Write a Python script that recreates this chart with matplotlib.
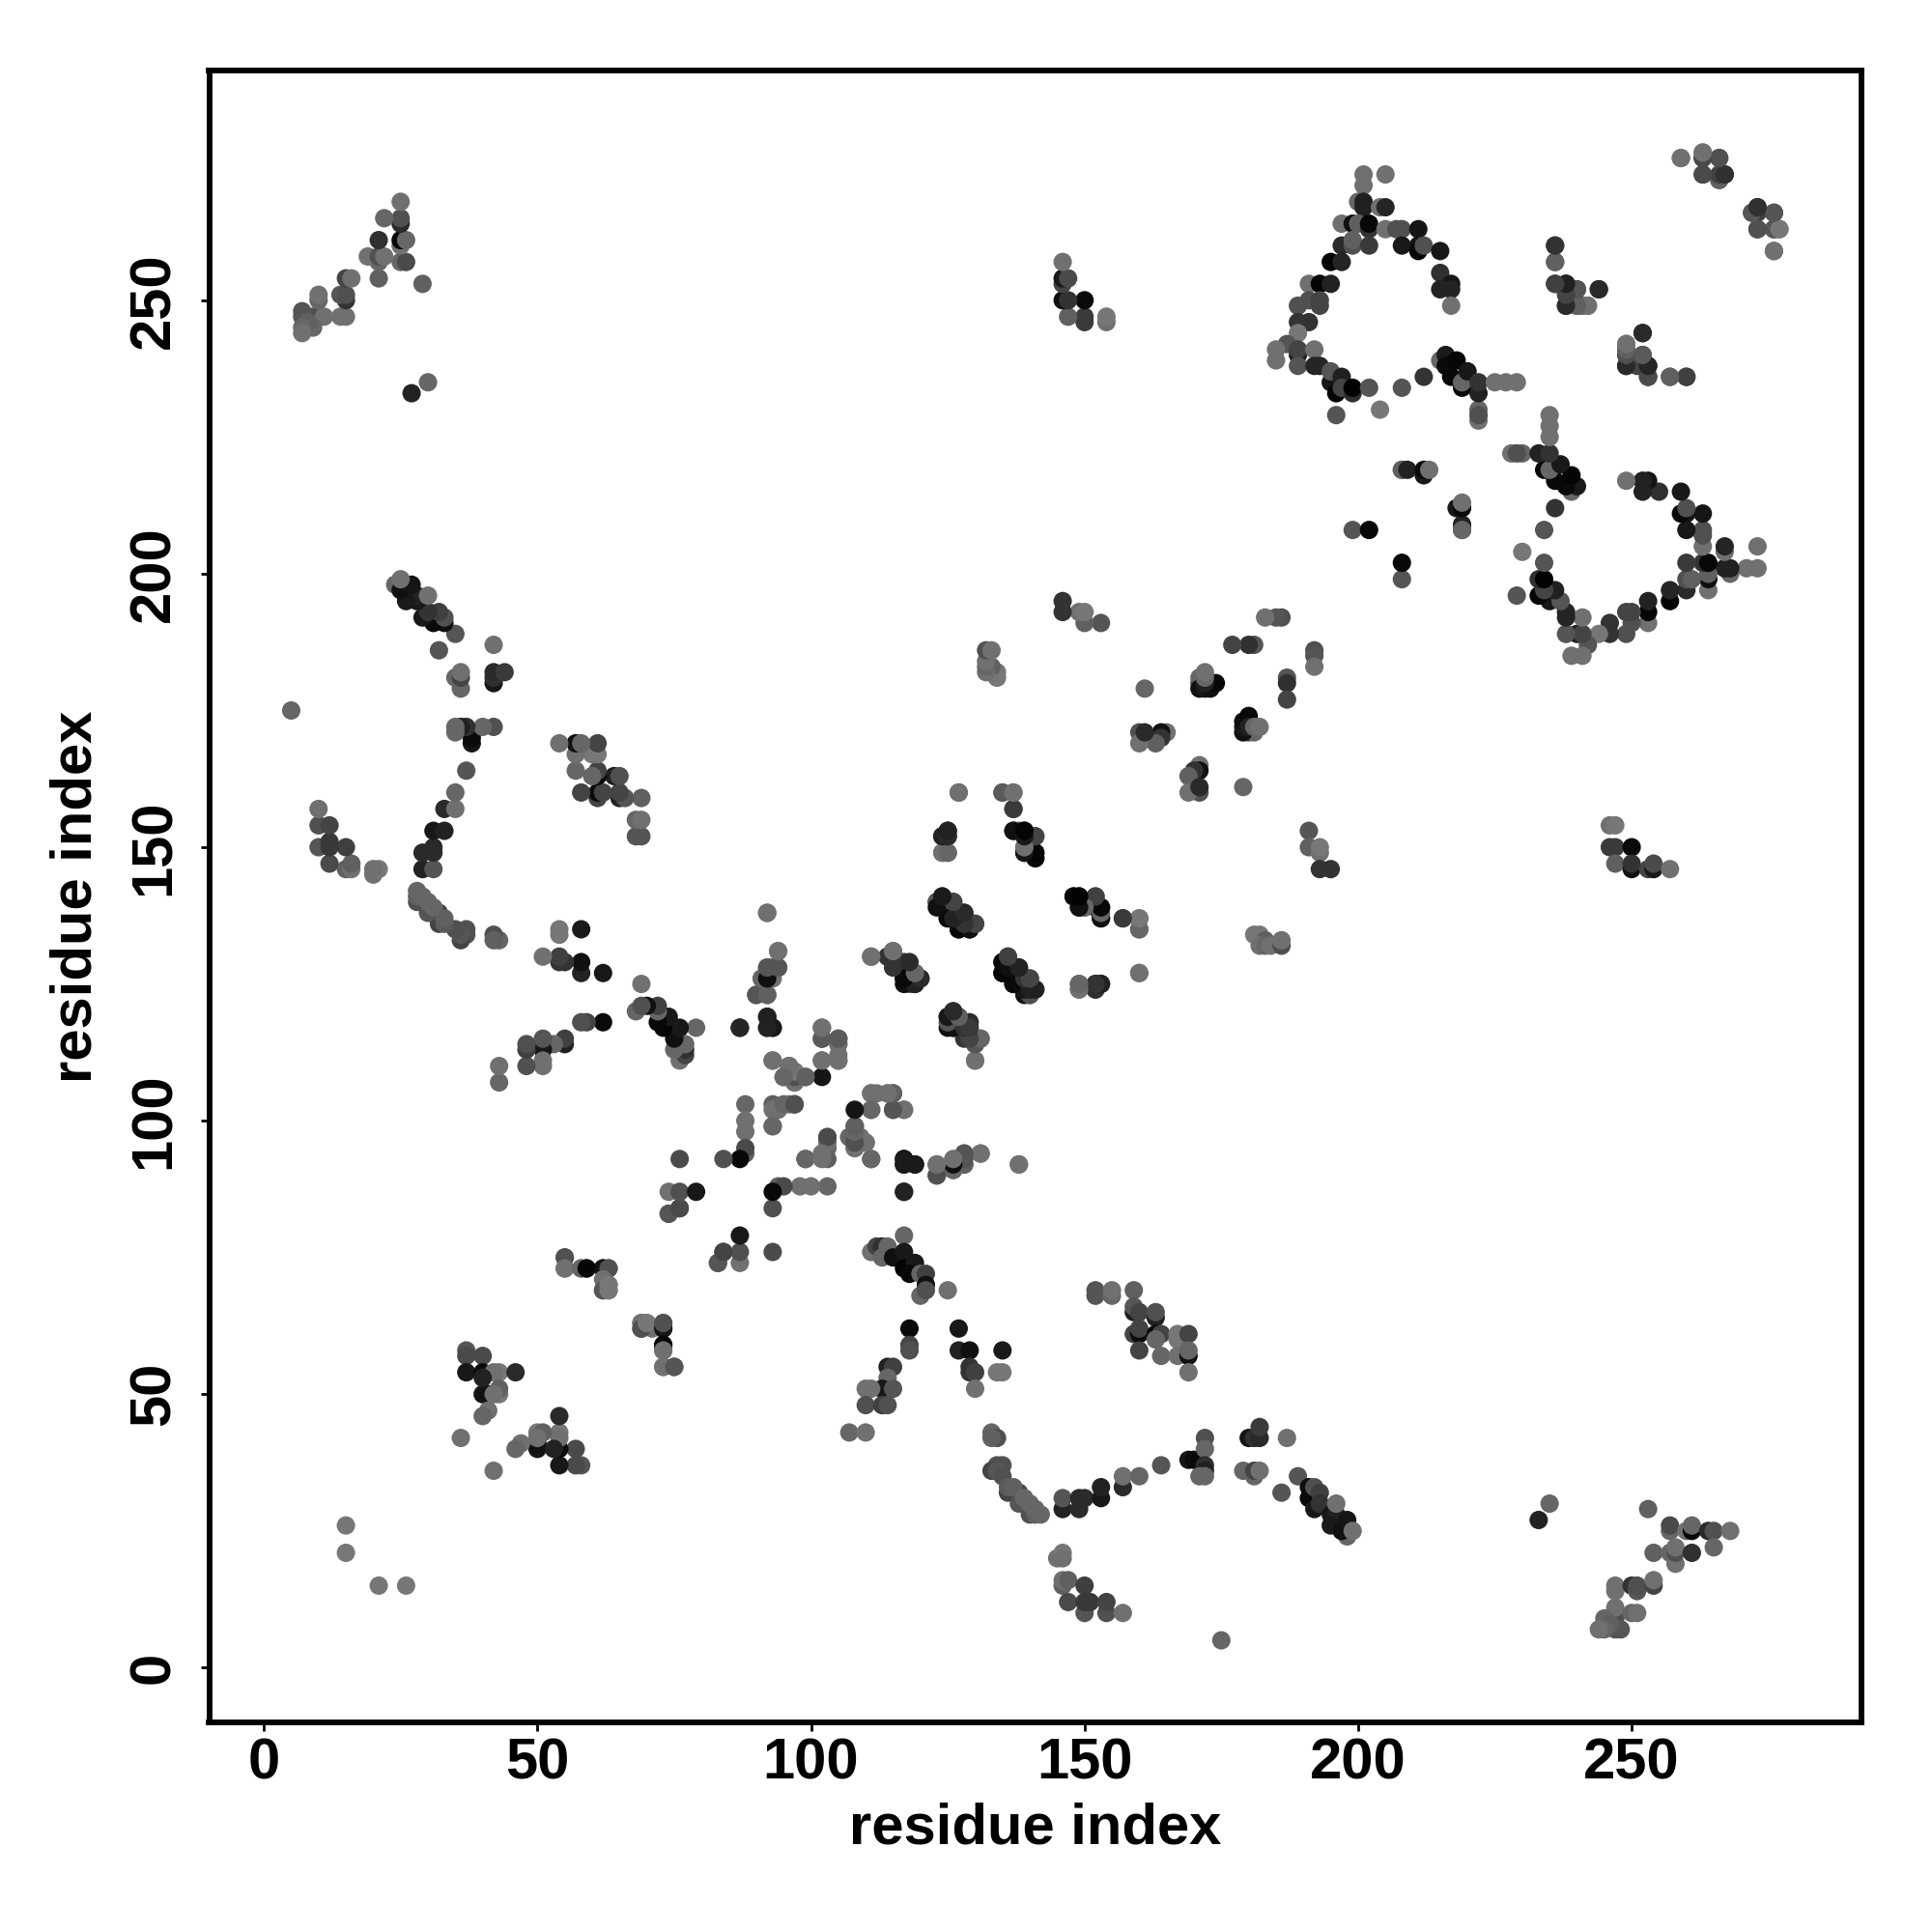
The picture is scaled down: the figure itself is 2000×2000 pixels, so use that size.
"""
Residue contact map, drawn from the lower half of the symmetric contact list.
Each entry is (residue a, residue b, grey level).
"""

import matplotlib

matplotlib.use("Agg")
import matplotlib.pyplot as plt
import numpy as np

plt.rcParams["font.family"] = ["Liberation Sans", "DejaVu Sans"]
plt.rcParams["font.weight"] = "bold"

tick_values = [0, 50, 100, 150, 200, 250]
axis_label = "residue index"

contacts_n_term = [
    (26, 15, 0x77), (21, 15, 0x77), (42, 36, 0x70),
    (58, 37, 0x55), (57, 37, 0x4a), (57, 40, 0x4a), (54, 37, 0x18), (54, 40, 0x0a),
    (54, 43, 0x77), (54, 42, 0x70), (54, 46, 0x2a), (50, 40, 0x15), (50, 41, 0x10),
    (50, 43, 0x77), (51, 43, 0x60), (50, 42, 0x70), (47, 41, 0x70), (46, 40, 0x66),
    (53, 40, 0x22),
    (75, 55, 0x50), (73, 55, 0x70), (73, 58, 0x66), (73, 59, 0x05), (73, 62, 0x10),
    (73, 63, 0x50), (71, 62, 0x70), (69, 62, 0x55), (69, 63, 0x77), (70, 63, 0x77),
    (63, 69, 0x70), (62, 69, 0x50), (63, 70, 0x77),
    (62, 73, 0x15), (63, 73, 0x50), (59, 73, 0x05), (58, 73, 0x70), (55, 73, 0x70),
    (55, 75, 0x55),
    (74, 83, 0x55), (76, 84, 0x44), (83, 74, 0x55), (84, 76, 0x4a),
    (87, 74, 0x70), (87, 76, 0x50), (87, 79, 0x18), (93, 76, 0x4a), (93, 84, 0x50),
]

contacts_low_band = [
    (117, 79, 0x66), (111, 76, 0x70), (112, 77, 0x44), (113, 77, 0x30), (114, 77, 0x66),
    (113, 75, 0x66), (115, 75, 0x10), (117, 76, 0x18), (117, 73, 0x05), (119, 74, 0x18),
    (118, 72, 0x08), (120, 72, 0x66), (121, 72, 0x40), (120, 68, 0x66), (121, 70, 0x10),
    (121, 69, 0x50), (125, 69, 0x70),
    (118, 62, 0x0a), (118, 59, 0x44), (118, 58, 0x50), (127, 62, 0x18), (127, 58, 0x22),
    (129, 58, 0x10), (135, 58, 0x1a), (129, 55, 0x33), (129, 54, 0x33), (130, 54, 0x40),
    (134, 54, 0x77), (135, 54, 0x77), (130, 51, 0x70),
    (114, 55, 0x20), (115, 55, 0x40), (114, 53, 0x66), (113, 51, 0x18), (115, 51, 0x55),
    (110, 51, 0x70), (111, 51, 0x70), (110, 48, 0x50), (113, 48, 0x40), (114, 48, 0x50),
    (107, 43, 0x66), (110, 43, 0x70),
    (133, 43, 0x66), (134, 42, 0x50), (133, 42, 0x60),
    (134, 37, 0x50), (135, 37, 0x50), (133, 36, 0x44), (134, 36, 0x55), (135, 35, 0x50),
    (136, 32, 0x44), (138, 32, 0x44), (136, 33, 0x5a), (137, 33, 0x60), (138, 30, 0x55),
    (139, 31, 0x66), (140, 28, 0x50), (140, 30, 0x66), (141, 28, 0x60), (141, 29, 0x66),
    (142, 28, 0x66),
    (146, 29, 0x22), (146, 31, 0x55), (149, 29, 0x2a), (149, 31, 0x2a), (150, 31, 0x2a),
    (153, 31, 0x18), (153, 33, 0x22), (157, 33, 0x2a), (157, 35, 0x70), (160, 35, 0x66),
    (164, 37, 0x55),
    (169, 38, 0x15), (170, 38, 0x0a), (172, 42, 0x50), (172, 40, 0x66), (172, 37, 0x30),
    (172, 36, 0x20), (171, 35, 0x66), (172, 35, 0x66),
    (180, 42, 0x15), (181, 42, 0x30), (182, 42, 0x2a), (182, 44, 0x3a),
    (179, 36, 0x66), (181, 35, 0x66), (181, 36, 0x44), (182, 36, 0x70), (187, 42, 0x70),
    (145, 20, 0x70), (146, 21, 0x77), (146, 20, 0x70), (146, 15, 0x60), (146, 16, 0x70),
    (147, 16, 0x60), (150, 15, 0x3f), (147, 12, 0x4a), (150, 10, 0x55), (150, 12, 0x38),
    (151, 12, 0x38), (154, 10, 0x50), (154, 12, 0x44), (157, 10, 0x70), (175, 5, 0x66),
    (152, 69, 0x55), (152, 68, 0x55), (155, 68, 0x66), (155, 69, 0x70), (159, 69, 0x60),
    (159, 65, 0x20), (159, 66, 0x55), (160, 65, 0x44), (163, 64, 0x20), (163, 65, 0x50),
    (159, 61, 0x44), (160, 61, 0x0a), (160, 62, 0x44), (163, 61, 0x0a), (164, 61, 0x44),
    (160, 58, 0x44), (163, 60, 0x66), (164, 57, 0x66), (167, 60, 0x77), (167, 61, 0x77),
    (169, 61, 0x44), (167, 57, 0x70), (169, 57, 0x10), (169, 58, 0x66), (169, 54, 0x70),
    (189, 35, 0x55), (186, 32, 0x55), (191, 33, 0x10), (191, 31, 0x0a), (192, 33, 0x50),
    (193, 32, 0x40), (192, 29, 0x18), (193, 30, 0x33), (195, 28, 0x18), (196, 28, 0x22),
    (195, 26, 0x1a), (196, 30, 0x70), (198, 24, 0x66), (197, 25, 0x10), (198, 27, 0x15),
    (199, 25, 0x70),
    (233, 27, 0x22), (235, 30, 0x66),
    (253, 29, 0x60), (257, 25, 0x66), (257, 26, 0x4a), (260, 25, 0x70), (261, 25, 0x08),
    (261, 26, 0x66), (264, 25, 0x2a), (265, 25, 0x50), (268, 25, 0x70), (265, 22, 0x66),
    (254, 21, 0x60), (257, 21, 0x66), (258, 19, 0x70), (258, 21, 0x50), (258, 22, 0x70),
    (261, 21, 0x30),
    (247, 14, 0x70), (247, 15, 0x70), (250, 15, 0x33), (251, 14, 0x55), (251, 15, 0x50),
    (254, 15, 0x44), (254, 16, 0x70),
    (247, 9, 0x50), (247, 11, 0x70), (245, 9, 0x66), (250, 10, 0x66), (251, 10, 0x70),
    (247, 7, 0x55), (248, 7, 0x55), (246, 8, 0x60), (245, 7, 0x66), (244, 7, 0x70),
]

contacts_centre = [
    (127, 160, 0x70), (135, 160, 0x66), (137, 160, 0x77), (137, 157, 0x3a),
    (124, 152, 0x30), (125, 153, 0x22), (125, 152, 0x33), (124, 149, 0x70), (125, 149, 0x66),
    (137, 153, 0x10), (138, 153, 0x66), (139, 153, 0x08), (141, 152, 0x40), (139, 150, 0x66),
    (139, 149, 0x10), (141, 148, 0x08), (141, 149, 0x02),
    (123, 140, 0x50), (124, 139, 0x15), (125, 137, 0x0a), (127, 135, 0x05), (129, 135, 0x08),
    (124, 141, 0x22), (124, 140, 0x20), (126, 139, 0x33), (126, 140, 0x44), (128, 136, 0x10),
    (128, 138, 0x22), (130, 136, 0x40),
    (148, 141, 0x08), (149, 141, 0x05), (152, 141, 0x44), (149, 139, 0x15), (150, 139, 0x70),
    (153, 137, 0x10), (152, 139, 0x18), (153, 139, 0x05), (157, 137, 0x3a), (160, 135, 0x5a),
    (160, 137, 0x70),
    (111, 130, 0x70), (114, 130, 0x55), (115, 131, 0x66), (115, 129, 0x44), (117, 126, 0x10),
    (118, 125, 0x55), (119, 125, 0x18), (117, 128, 0x33), (117, 129, 0x3a), (119, 127, 0x60),
    (120, 126, 0x2a),
    (135, 127, 0x08), (135, 129, 0x10), (136, 130, 0x44), (136, 128, 0x33), (137, 125, 0x0a),
    (137, 126, 0x22), (138, 128, 0x2a), (140, 123, 0x55), (139, 123, 0x10), (140, 126, 0x44),
    (141, 124, 0x1a),
    (149, 124, 0x70), (149, 125, 0x66), (152, 124, 0x22), (152, 125, 0x2a), (153, 125, 0x22),
    (160, 127, 0x70),
    (125, 117, 0x10), (125, 119, 0x22), (126, 117, 0x0a), (126, 120, 0x2a), (127, 119, 0x66),
    (129, 118, 0x2a), (128, 115, 0x33), (130, 114, 0x33), (131, 115, 0x70), (130, 111, 0x70),
    (181, 134, 0x77), (182, 133, 0x70), (182, 134, 0x77), (183, 133, 0x60), (182, 132, 0x70),
    (183, 132, 0x66), (184, 132, 0x70), (186, 132, 0x50), (186, 133, 0x70),
    (191, 153, 0x55), (191, 150, 0x60), (193, 149, 0x70), (193, 150, 0x77), (193, 146, 0x33),
    (195, 146, 0x33),
    (246, 154, 0x70), (247, 154, 0x77), (246, 150, 0x3a), (247, 150, 0x3a), (250, 150, 0x0a),
    (247, 147, 0x60), (250, 146, 0x10), (250, 147, 0x33), (253, 146, 0x44), (254, 146, 0x18),
    (254, 147, 0x4a), (257, 146, 0x70),
]

contacts_core = [
    (92, 138, 0x70), (94, 131, 0x70), (92, 128, 0x60), (93, 128, 0x55), (94, 128, 0x55),
    (91, 126, 0x66), (92, 126, 0x10), (93, 126, 0x70), (90, 123, 0x50), (92, 123, 0x70),
    (92, 119, 0x1a), (92, 117, 0x1a), (93, 117, 0x1a), (87, 117, 0x22),
    (102, 117, 0x70), (102, 115, 0x55), (105, 115, 0x60), (105, 114, 0x70), (105, 111, 0x70),
    (102, 111, 0x66), (93, 111, 0x66), (96, 110, 0x70), (97, 109, 0x70), (95, 108, 0x70),
    (97, 107, 0x66), (96, 108, 0x50), (98, 108, 0x66), (99, 108, 0x60), (102, 108, 0x15),
    (88, 103, 0x66), (93, 103, 0x60), (96, 103, 0x70), (97, 103, 0x4a), (94, 102, 0x70),
    (93, 99, 0x66), (88, 100, 0x70), (88, 98, 0x70), (88, 94, 0x60), (88, 95, 0x4a),
    (87, 93, 0x08), (93, 102, 0x70), (99, 93, 0x66), (103, 95, 0x66), (103, 97, 0x50),
    (107, 97, 0x70), (108, 97, 0x50), (109, 97, 0x77), (110, 96, 0x70), (108, 95, 0x66),
    (108, 99, 0x60),
    (111, 93, 0x70), (117, 93, 0x18), (117, 92, 0x22), (119, 92, 0x20), (123, 90, 0x55),
    (123, 92, 0x60), (126, 91, 0x66), (126, 92, 0x10), (128, 92, 0x55), (128, 94, 0x55),
    (131, 94, 0x70), (138, 92, 0x70),
    (117, 87, 0x25), (111, 105, 0x70), (112, 105, 0x70), (114, 105, 0x70), (115, 105, 0x5a),
    (115, 102, 0x5a), (117, 102, 0x70), (111, 102, 0x70),
]

contacts_mid = [
    (192, 186, 0x50), (192, 185, 0x55), (192, 183, 0x70), (187, 181, 0x55), (187, 180, 0x30),
    (187, 177, 0x44),
    (180, 171, 0x50), (181, 171, 0x66), (179, 171, 0x10), (179, 172, 0x18), (179, 173, 0x10),
    (180, 174, 0x08), (180, 172, 0x20), (181, 172, 0x66), (182, 172, 0x70),
    (171, 165, 0x70), (171, 164, 0x10), (170, 164, 0x33), (169, 163, 0x60), (171, 160, 0x50),
    (169, 160, 0x70), (171, 161, 0x2a), (179, 161, 0x66),
    (219, 208, 0x60), (219, 209, 0x22), (218, 212, 0x18), (219, 212, 0x0a), (219, 213, 0x70),
    (208, 199, 0x55), (208, 202, 0x08), (208, 219, 0x66),
    (196, 229, 0x55), (204, 230, 0x77), (222, 228, 0x70), (222, 230, 0x66), (222, 229, 0x50),
]

contacts_top = [
    (201, 273, 0x70), (205, 273, 0x70), (201, 271, 0x70), (200, 268, 0x66), (201, 267, 0x20),
    (201, 268, 0x20), (204, 267, 0x70), (205, 267, 0x25),
    (197, 264, 0x70), (199, 264, 0x10), (200, 264, 0x60), (202, 263, 0x33), (202, 264, 0x08),
    (205, 263, 0x70), (207, 263, 0x50), (208, 263, 0x50), (211, 263, 0x15),
    (197, 260, 0x2a), (199, 260, 0x50), (199, 261, 0x60), (202, 260, 0x3a), (208, 260, 0x18),
    (211, 260, 0x15), (211, 259, 0x08), (212, 260, 0x50), (215, 259, 0x18),
    (195, 257, 0x05), (197, 257, 0x25), (191, 253, 0x70), (193, 253, 0x05), (195, 253, 0x22),
    (215, 255, 0x30), (217, 253, 0x15), (215, 252, 0x22), (217, 252, 0x22), (217, 249, 0x70),
    (191, 250, 0x50), (193, 249, 0x44), (193, 250, 0x44), (189, 249, 0x50), (189, 246, 0x33),
    (191, 246, 0x33), (189, 244, 0x77), (187, 242, 0x55), (189, 240, 0x20), (189, 241, 0x44),
    (185, 239, 0x70), (185, 241, 0x70), (192, 241, 0x70), (189, 238, 0x55),
    (192, 238, 0x25), (193, 238, 0x25), (195, 235, 0x15), (195, 237, 0x55), (196, 233, 0x05),
    (197, 236, 0x20), (197, 234, 0x44), (199, 233, 0x30), (199, 234, 0x02),
    (202, 234, 0x55), (208, 234, 0x55), (212, 236, 0x33),
    (215, 239, 0x66), (216, 240, 0x1a), (216, 238, 0x0a), (218, 239, 0x05), (217, 236, 0x08),
    (219, 234, 0x08), (219, 235, 0x66), (220, 237, 0x18), (222, 233, 0x22), (222, 235, 0x33),
    (225, 235, 0x70), (227, 235, 0x70), (229, 235, 0x70),
    (236, 260, 0x3f), (236, 257, 0x60), (236, 253, 0x4a), (238, 253, 0x25), (240, 252, 0x5a),
    (244, 252, 0x2a), (238, 249, 0x2a), (240, 249, 0x50), (241, 249, 0x60), (242, 249, 0x70),
    (252, 244, 0x2a), (249, 242, 0x70), (249, 240, 0x60), (252, 240, 0x55), (249, 238, 0x2a),
    (251, 238, 0x44), (253, 238, 0x20), (253, 236, 0x40), (257, 236, 0x60), (260, 236, 0x33),
    (259, 276, 0x70), (263, 276, 0x55), (263, 277, 0x77), (266, 276, 0x55), (263, 273, 0x50),
    (266, 272, 0x55), (267, 273, 0x30),
    (272, 266, 0x60), (273, 266, 0x40), (273, 267, 0x30), (276, 266, 0x50), (273, 263, 0x4a),
    (276, 263, 0x4a), (277, 263, 0x70), (276, 259, 0x70),
]

contacts = np.array(
    contacts_n_term
    + contacts_low_band
    + contacts_centre
    + contacts_core
    + contacts_mid
    + contacts_top
)
res_a = contacts[:, 0]
res_b = contacts[:, 1]
shades = contacts[:, 2] / 255

fig = plt.figure(figsize=(10, 10), dpi=200)
ax = fig.add_axes([216.5 / 2000, 1 - 1783 / 2000, 1710.5 / 2000, 1710 / 2000])

# the map is symmetric, so every contact shows on both sides of the diagonal
ax.scatter(
    np.concatenate([res_a, res_b]),
    np.concatenate([res_b, res_a]),
    c=np.concatenate([shades, shades]),
    cmap="gray",
    vmin=0,
    vmax=1,
    s=47,
    linewidths=0,
    clip_on=False,
)

ax.set_xlim(-10, 292)
ax.set_ylim(-10, 292)
ax.set_xticks(tick_values)
ax.set_yticks(tick_values)
ax.tick_params(axis="both", length=3.4, width=1.0, labelsize=21.5)
ax.tick_params(axis="x", pad=2)
ax.tick_params(axis="y", pad=7)
plt.setp(ax.get_yticklabels(), rotation=90, va="center")
for side in ax.spines.values():
    side.set_linewidth(2.1)

ax.set_xlabel(axis_label, fontsize=21.5, fontweight="bold", va="center")
ax.set_ylabel(axis_label, fontsize=21.5, fontweight="bold", va="center")
ax.xaxis.set_label_coords(0.5, -0.0643)
ax.yaxis.set_label_coords(-0.0804, 0.5)

fig.savefig("out.png", dpi=200)
